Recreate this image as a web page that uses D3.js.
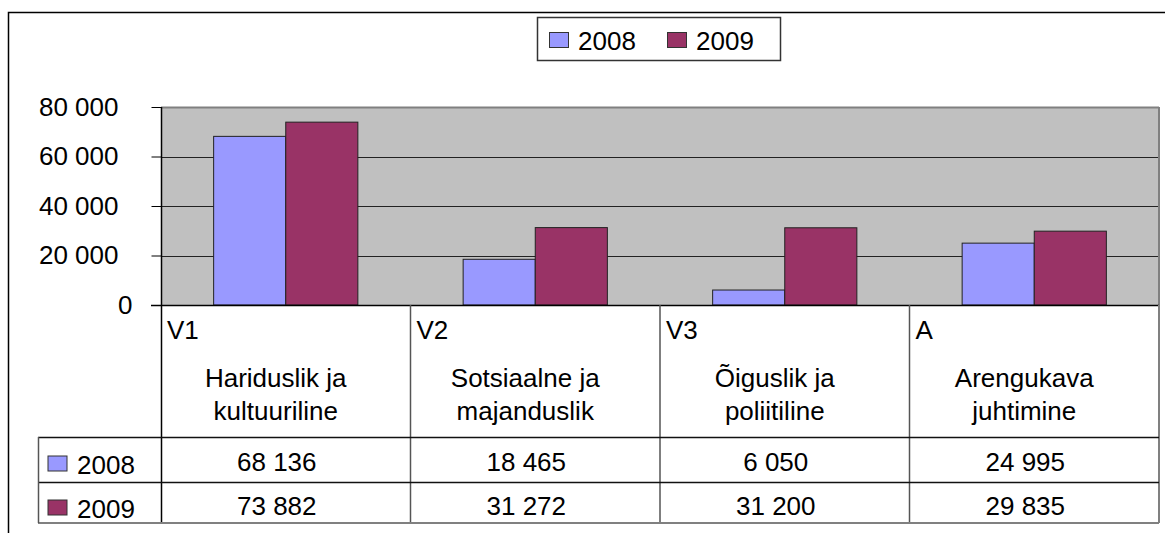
<!DOCTYPE html>
<html>
<head>
<meta charset="utf-8">
<script src="https://cdn.jsdelivr.net/npm/d3@7"></script>
<style>
  html, body { margin: 0; padding: 0; background: #fff; }
  svg { display: block; font-family: Arial, "Liberation Sans", sans-serif; }
  text { fill: #000; }
</style>
</head>
<body>
<div id="chart"></div>
<script>
// --- DATA ---
const codes = ['V1', 'V2', 'V3', 'A'];
const names = [
    ['Hariduslik ja', 'kultuuriline'],
    ['Sotsiaalne ja', 'majanduslik'],
    ['Õiguslik ja', 'poliitiline'],
    ['Arengukava', 'juhtimine']
];
const years = ['2008', '2009'];
const values2008 = [68136, 18465, 6050, 24995];
const values2009 = [73882, 31272, 31200, 29835];
const yTicks = [0, 20000, 40000, 60000, 80000];

const colors = { '2008': '#9999FF', '2009': '#993366' };

// --- LAYOUT ---
const W = 1165, H = 533;
const plot = { left: 161, right: 1159, top: 107, bottom: 305 };
const table = { left: 38, headBottom: 437, row1: 482, bottom: 523 };
const fontSize = 26;

const locale = d3.formatLocale({ decimal: ',', thousands: ' ', grouping: [3] });
const fmt = locale.format(',d');

const svg = d3.select('#chart').append('svg')
    .attr('width', W)
    .attr('height', H)
    .style('font-size', fontSize + 'px');

// outer chart border (left and top only visible)
svg.append('rect')
    .attr('x', 8.5).attr('y', 12.5)
    .attr('width', 1300).attr('height', 700)
    .attr('fill', 'none').attr('stroke', '#000').attr('stroke-width', 1.5);

// --- SCALES ---
const x0 = d3.scaleBand().domain(codes).range([plot.left, plot.right]).padding(0);
const x1 = d3.scaleBand().domain(years).range([0, x0.bandwidth()]).paddingInner(0).paddingOuter(0.73);
const y = d3.scaleLinear().domain([0, 80000]).range([plot.bottom, plot.top]);

const series = years.map((yr, i) => ({ year: yr, values: i === 0 ? values2008 : values2009 }));

// plot background
svg.append('rect')
    .attr('x', plot.left).attr('y', plot.top)
    .attr('width', plot.right - plot.left).attr('height', plot.bottom - plot.top)
    .attr('fill', '#C0C0C0');

// gridlines
svg.append('g')
    .selectAll('line')
    .data(yTicks.filter(t => t > 0))
    .join('line')
    .attr('x1', plot.left).attr('x2', plot.right)
    .attr('y1', d => Math.round(y(d)) + 0.5).attr('y2', d => Math.round(y(d)) + 0.5)
    .attr('stroke', d => d === 80000 ? '#808080' : '#222')
    .attr('stroke-width', d => d === 80000 ? 2 : 1);

// plot right border
svg.append('line')
    .attr('x1', plot.right).attr('x2', plot.right)
    .attr('y1', plot.top).attr('y2', plot.bottom)
    .attr('stroke', '#808080').attr('stroke-width', 2);

// bars
svg.append('g')
    .selectAll('g')
    .data(series)
    .join('g')
    .attr('fill', d => colors[d.year])
    .selectAll('rect')
    .data(d => d.values.map((v, i) => ({ code: codes[i], year: d.year, v })))
    .join('rect')
    .attr('x', d => x0(d.code) + x1(d.year))
    .attr('y', d => y(d.v))
    .attr('width', x1.bandwidth())
    .attr('height', d => y(0) - y(d.v))
    .attr('stroke', '#222')
    .attr('stroke-width', 1);

// y axis
const yAxis = d3.axisLeft(y)
    .tickValues(yTicks)
    .tickFormat(d => fmt(d))
    .tickSize(10)
    .tickPadding(33);

const ya = svg.append('g')
    .attr('transform', `translate(${plot.left + 0.5},0)`)
    .call(yAxis);
ya.select('.domain').remove();
ya.selectAll('.tick line').attr('stroke', '#000');
ya.selectAll('.tick text')
    .attr('font-size', fontSize)
    .attr('font-family', 'Arial, "Liberation Sans", sans-serif')
    .attr('fill', '#000')
    .attr('dx', d => d === 0 ? 14 : 0);

// --- DATA TABLE ---
const grid = svg.append('g').attr('stroke-width', 1.5);

// vertical axis line continues down through the table
grid.append('line')
    .attr('x1', plot.left + 0.5).attr('x2', plot.left + 0.5)
    .attr('y1', plot.top).attr('y2', table.bottom)
    .attr('stroke', '#000');

// category axis line
grid.append('line')
    .attr('x1', plot.left - 10).attr('x2', plot.right)
    .attr('y1', plot.bottom + 0.5).attr('y2', plot.bottom + 0.5)
    .attr('stroke', '#000');

// category separators
grid.selectAll('line.sep')
    .data(codes.slice(1))
    .join('line')
    .attr('class', 'sep')
    .attr('x1', d => x0(d)).attr('x2', d => x0(d))
    .attr('y1', plot.bottom).attr('y2', table.bottom)
    .attr('stroke', '#555');

// right border of table
grid.append('line')
    .attr('x1', plot.right).attr('x2', plot.right)
    .attr('y1', plot.bottom).attr('y2', table.bottom)
    .attr('stroke', '#808080').attr('stroke-width', 2);

// horizontal rules
[table.headBottom, table.row1].forEach(yy => {
    grid.append('line')
        .attr('x1', table.left).attr('x2', plot.right)
        .attr('y1', yy + 0.5).attr('y2', yy + 0.5)
        .attr('stroke', '#111');
});
grid.append('line')
    .attr('x1', table.left).attr('x2', plot.right)
    .attr('y1', table.bottom).attr('y2', table.bottom)
    .attr('stroke', '#808080').attr('stroke-width', 2);
grid.append('line')
    .attr('x1', table.left + 0.5).attr('x2', table.left + 0.5)
    .attr('y1', table.headBottom).attr('y2', table.bottom)
    .attr('stroke', '#555');

// header cells
const head = svg.append('g')
    .selectAll('g')
    .data(codes)
    .join('g')
    .attr('transform', d => `translate(${x0(d)},0)`);

head.append('text')
    .attr('x', 6).attr('y', 339)
    .text(d => d);

head.each(function (d, i) {
    const g = d3.select(this);
    names[i].forEach((line, j) => {
        g.append('text')
            .attr('x', x0.bandwidth() / 2 - 10)
            .attr('y', 387 + j * 33)
            .attr('text-anchor', 'middle')
            .text(line);
    });
});

// value rows
const rowBase = [471, 515];
const rows = svg.append('g')
    .selectAll('g')
    .data(series)
    .join('g');

rows.append('rect')
    .attr('x', 48)
    .attr('y', (d, i) => rowBase[i] - 15)
    .attr('width', 19).attr('height', 15)
    .attr('fill', d => colors[d.year])
    .attr('stroke', '#333').attr('stroke-width', 1);

rows.append('text')
    .attr('x', 77)
    .attr('y', (d, i) => rowBase[i] + 3)
    .text(d => d.year);

rows.each(function (s, i) {
    d3.select(this).selectAll('text.val')
        .data(s.values)
        .join('text')
        .attr('class', 'val')
        .attr('x', (v, k) => x0(codes[k]) + x0.bandwidth() / 2 - 9)
        .attr('y', rowBase[i])
        .attr('text-anchor', 'middle')
        .text(v => fmt(v));
});

// --- LEGEND ---
const legend = svg.append('g');
legend.append('rect')
    .attr('x', 537.5).attr('y', 17.5)
    .attr('width', 243).attr('height', 43)
    .attr('fill', '#fff').attr('stroke', '#333').attr('stroke-width', 1.5);

const legX = [549, 667];
const li = legend.selectAll('g.item')
    .data(years)
    .join('g')
    .attr('class', 'item')
    .attr('transform', (d, i) => `translate(${legX[i]},0)`);

li.append('rect')
    .attr('x', 0.5).attr('y', 32.5)
    .attr('width', 19).attr('height', 15)
    .attr('fill', d => colors[d])
    .attr('stroke', '#333').attr('stroke-width', 1);

li.append('text')
    .attr('x', 29).attr('y', 50)
    .text(d => d);
</script>
</body>
</html>
